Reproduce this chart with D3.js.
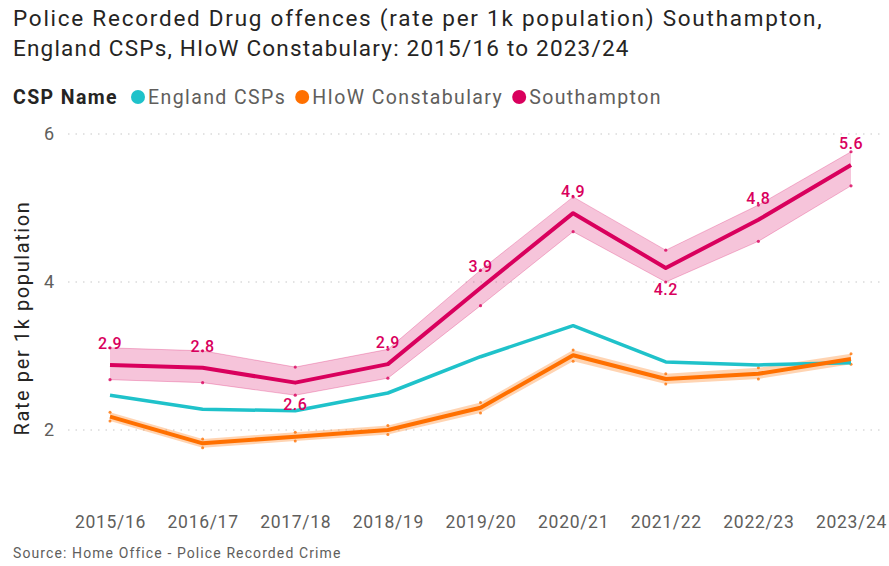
<!DOCTYPE html>
<html>
<head>
<meta charset="utf-8">
<script src="https://cdn.jsdelivr.net/npm/d3@7"></script>
<style>
  html, body { margin: 0; padding: 0; background: #fff; }
  svg { display: block; font-family: Roboto, "DejaVu Sans", sans-serif; }
</style>
</head>
<body>
<svg id="chart" width="889" height="566"></svg>
<script>
// Financial years on the x axis
const years = ["2015/16", "2016/17", "2017/18", "2018/19", "2019/20", "2020/21", "2021/22", "2022/23", "2023/24"];

// Drug offences, rate per 1k population
const englandCSPs      = [2.47, 2.28, 2.26, 2.50, 2.99, 3.41, 2.92, 2.88, 2.91];
const hiowConstabulary = [2.18, 1.82, 1.91, 2.00, 2.30, 3.01, 2.69, 2.76, 2.96];
const hiowUpper        = [2.24, 1.88, 1.97, 2.06, 2.37, 3.08, 2.76, 2.84, 3.03];
const hiowLower        = [2.12, 1.76, 1.85, 1.94, 2.23, 2.93, 2.62, 2.69, 2.89];
const southampton      = [2.88, 2.84, 2.64, 2.89, 3.92, 4.93, 4.19, 4.84, 5.58];
const southamptonUpper = [3.11, 3.07, 2.85, 3.09, 4.16, 5.15, 4.43, 5.04, 5.76];
const southamptonLower = [2.68, 2.64, 2.47, 2.70, 3.68, 4.68, 4.00, 4.55, 5.30];

const yTicks = [2, 4, 6];

const colors = {
  england: "#1FC2CA",
  hiow: "#FF7000",
  soton: "#D9005D"
};

const svg = d3.select("#chart");

const x = d3.scalePoint().domain(years).range([110, 851]);
const y = d3.scaleLinear().domain([2, 6]).range([430, 134]);

// Title
const title = svg.append("g").attr("fill", "#252423").style("font-size", "22.5px");
title.append("text").attr("x", 13).attr("y", 26).attr("letter-spacing", 1.75)
  .text("Police Recorded Drug offences (rate per 1k population) Southampton,");
title.append("text").attr("x", 13).attr("y", 56).attr("letter-spacing", 1.2)
  .text("England CSPs, HIoW Constabulary: 2015/16 to 2023/24");

// Legend, laid out left to right from measured text widths
const legend = svg.append("g").style("font-size", "19.5px").attr("letter-spacing", 1.4);
const legendHead = legend.append("text").attr("x", 13).attr("y", 104)
  .attr("fill", "#252423").attr("font-weight", 700).text("CSP Name");
const legendItems = [
  { name: "England CSPs", color: colors.england },
  { name: "HIoW Constabulary", color: colors.hiow },
  { name: "Southampton", color: colors.soton }
];
let cursor = 13 + legendHead.node().getComputedTextLength() + 20;
legendItems.forEach(d => {
  legend.append("circle").attr("cx", cursor).attr("cy", 97).attr("r", 7).attr("fill", d.color);
  const t = legend.append("text").attr("x", cursor + 10).attr("y", 104).attr("fill", "#605E5C").text(d.name);
  cursor += 10 + t.node().getComputedTextLength() + 16;
});

// Y axis labels
const yAxis = d3.axisLeft(y).tickValues(yTicks).tickSize(0).tickPadding(0).tickFormat(d3.format("d"));
const yg = svg.append("g").attr("transform", "translate(54,0)").call(yAxis);
yg.select(".domain").remove();
yg.selectAll("text").attr("fill", "#605E5C").style("font-size", "18px").attr("font-family", "Roboto, sans-serif");

// Dotted gridlines
svg.append("g").selectAll("line").data(yTicks).join("line")
  .attr("x1", 68).attr("x2", 885)
  .attr("y1", d => y(d)).attr("y2", d => y(d))
  .attr("stroke", "#C8C8C8").attr("stroke-width", 1.2)
  .attr("stroke-dasharray", "1.5,6");

// Y axis title
svg.append("text")
  .attr("transform", "translate(29,318) rotate(-90)")
  .attr("text-anchor", "middle")
  .attr("fill", "#252423")
  .attr("letter-spacing", 1.6)
  .style("font-size", "20px")
  .text("Rate per 1k population");

// X axis
const xAxis = d3.axisBottom(x).tickSize(0).tickPadding(0);
const xg = svg.append("g").attr("transform", "translate(0,516)").call(xAxis);
xg.select(".domain").remove();
xg.selectAll("text").attr("fill", "#605E5C").style("font-size", "17.5px")
  .attr("letter-spacing", 0.7).attr("font-family", "Roboto, sans-serif");

// Source note
svg.append("text").attr("x", 13).attr("y", 558)
  .attr("fill", "#605E5C").style("font-size", "14px").attr("letter-spacing", 1.1)
  .text("Source: Home Office - Police Recorded Crime");

const idx = d3.range(years.length);
const line = vals => d3.line().x(i => x(years[i])).y(i => y(vals[i]))(idx);
const area = (lo, hi) => d3.area().x(i => x(years[i])).y0(i => y(lo[i])).y1(i => y(hi[i]))(idx);

// Southampton confidence band
svg.append("path").attr("d", area(southamptonLower, southamptonUpper))
  .attr("fill", colors.soton).attr("fill-opacity", 0.23);
[southamptonUpper, southamptonLower].forEach(vals => {
  svg.append("path").attr("d", line(vals)).attr("fill", "none")
    .attr("stroke", colors.soton).attr("stroke-opacity", 0.25).attr("stroke-width", 1);
  svg.append("g").selectAll("circle").data(idx).join("circle")
    .attr("cx", i => x(years[i])).attr("cy", i => y(vals[i])).attr("r", 1.6)
    .attr("fill", colors.soton).attr("fill-opacity", 0.8);
});

// HIoW band
svg.append("path").attr("d", area(hiowLower, hiowUpper))
  .attr("fill", colors.hiow).attr("fill-opacity", 0.3);
[hiowUpper, hiowLower].forEach(vals => {
  svg.append("g").selectAll("circle").data(idx).join("circle")
    .attr("cx", i => x(years[i])).attr("cy", i => y(vals[i])).attr("r", 1.5)
    .attr("fill", colors.hiow).attr("fill-opacity", 0.8);
});

// Series lines
svg.append("path").attr("d", line(englandCSPs)).attr("fill", "none")
  .attr("stroke", colors.england).attr("stroke-width", 3.5).attr("stroke-linejoin", "round");
svg.append("path").attr("d", line(hiowConstabulary)).attr("fill", "none")
  .attr("stroke", colors.hiow).attr("stroke-width", 4).attr("stroke-linejoin", "round");
svg.append("path").attr("d", line(southampton)).attr("fill", "none")
  .attr("stroke", colors.soton).attr("stroke-width", 4).attr("stroke-linejoin", "round");

// Southampton data labels: below the line at local minima, above otherwise
const fmt = d3.format(".1f");
svg.append("g").selectAll("text").data(idx).join("text")
  .attr("x", i => x(years[i]))
  .attr("y", i => {
    const v = southampton[i];
    const isMin = i > 0 && i < southampton.length - 1 && v < southampton[i - 1] && v < southampton[i + 1];
    return isMin ? y(v) + 27 : y(v) - 16;
  })
  .attr("text-anchor", "middle")
  .attr("fill", colors.soton)
  .attr("font-weight", 500)
  .attr("letter-spacing", 0.5)
  .style("font-size", "16px")
  .text(i => fmt(southampton[i]));
</script>
</body>
</html>
